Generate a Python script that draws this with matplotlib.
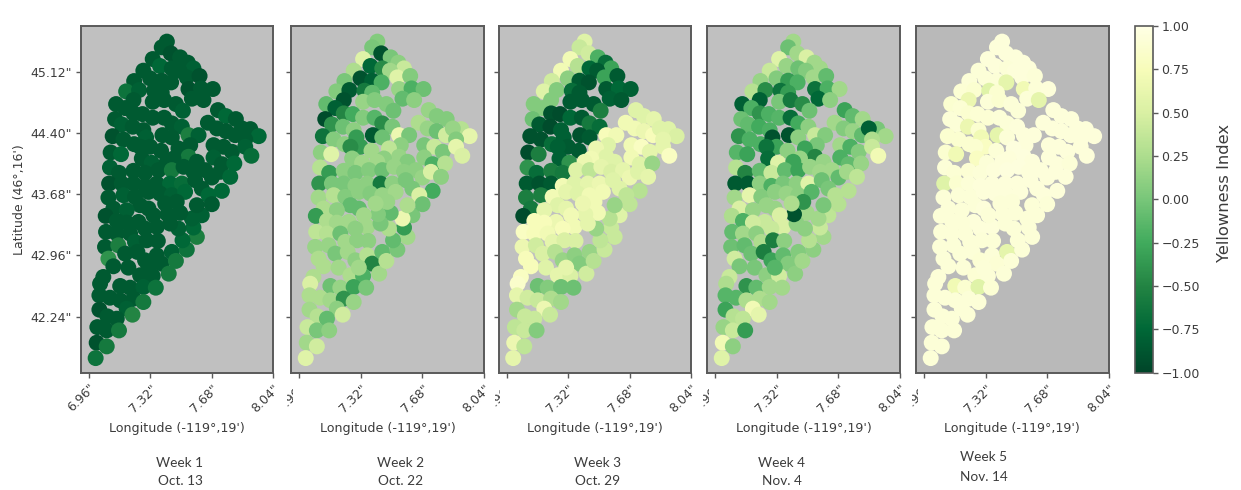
import matplotlib
matplotlib.use("Agg")
import matplotlib.pyplot as plt
from matplotlib.transforms import Bbox
from matplotlib.cm import ScalarMappable
from matplotlib.colors import Normalize

LON = [7.417,7.387,7.440,7.334,7.377,7.495,7.540,7.573,7.279,7.446,
7.491,7.534,7.609,7.225,7.319,7.387,7.442,7.178,7.254,7.342,
7.387,7.544,7.617,7.687,7.221,7.334,7.401,7.470,7.564,7.632,
7.119,7.172,7.511,7.221,7.274,7.334,7.401,7.113,7.446,7.505,
7.152,7.217,7.279,7.717,7.764,7.822,7.658,7.711,7.764,7.818,
7.907,7.956,7.858,7.877,7.544,7.603,7.099,7.162,7.225,7.295,
7.391,7.446,7.319,7.260,7.383,7.087,7.148,7.270,7.691,7.750,
7.799,7.877,7.913,7.554,7.485,7.544,7.456,7.593,7.691,7.740,
7.813,7.328,7.083,7.136,7.221,7.289,7.417,7.368,7.446,7.515,
7.573,7.642,7.681,7.730,7.789,7.078,7.152,7.221,7.289,7.358,
7.436,7.505,7.583,7.622,7.740,7.662,7.074,7.162,7.230,7.309,
7.377,7.446,7.524,7.103,7.058,7.260,7.181,7.309,7.250,7.123,
7.181,7.358,7.289,7.060,7.123,7.201,7.230,7.299,7.364,7.054,
7.132,7.172,7.244,7.074,7.289,7.358,7.387,7.446,7.103,7.191,
7.260,7.334,7.309,7.428,7.470,7.534,7.593,7.509,7.573,7.485,
7.622,7.564,7.681,7.593,7.495,7.436,7.421,7.475,7.407,7.338,
7.044,7.025,7.143,7.201,7.279,7.352,7.021,7.083,7.143,7.221,
7.279,7.181,7.021,7.068,7.123,7.215,7.009,7.064,7.136,7.005,7.064,6.999]

LAT = [45.478,45.411,45.340,45.273,45.191,45.293,45.230,45.163,45.136,45.163,
45.136,45.057,45.073,45.014,45.045,45.018,44.998,44.892,44.908,44.900,
44.876,44.920,44.927,44.920,44.790,44.770,44.790,44.743,44.806,44.790,
44.743,44.696,44.664,44.633,44.625,44.582,44.582,44.566,44.515,44.476,
44.503,44.476,44.436,44.672,44.601,44.566,44.523,44.456,44.424,44.377,
44.448,44.365,44.456,44.326,44.377,44.377,44.365,44.326,44.271,44.350,
44.377,44.350,44.240,44.240,44.193,44.173,44.153,44.102,44.259,44.240,
44.181,44.240,44.134,44.259,44.220,44.122,44.102,44.063,44.114,44.035,
44.043,44.051,43.996,43.933,43.957,43.933,44.063,43.965,43.965,44.004,
43.945,43.965,43.878,43.945,43.886,43.807,43.807,43.807,43.780,43.807,
43.807,43.807,43.847,43.748,43.721,43.670,43.642,43.670,43.650,43.709,
43.689,43.670,43.709,43.513,43.426,43.552,43.493,43.513,43.355,43.367,
43.347,43.297,43.277,43.238,43.218,43.218,43.120,43.139,43.131,43.061,
43.080,42.982,43.002,42.923,42.903,42.962,42.864,43.002,42.833,42.817,
42.727,42.719,42.817,42.746,42.896,43.029,43.179,43.139,43.289,43.277,
43.434,43.395,43.564,43.552,43.462,43.336,43.446,43.591,43.572,43.434,
42.707,42.628,42.601,42.581,42.589,42.581,42.491,42.463,42.432,42.452,
42.412,42.334,42.322,42.243,42.216,42.263,42.117,42.078,42.078,41.933,41.890,41.752]

WEEK1 = [-.85,-.85,-.9,-.85,-.75,-.85,-.85,-.8,-.85,-.85,
-.85,-.85,-.9,-.85,-.85,-.85,-.85,-.65,-.8,-.85,
-.85,-.9,-.85,-.85,-.85,-.85,-.85,-.85,-.85,-.85,
-.85,-.85,-.8,-.85,-.85,-.85,-.85,-.85,-.85,-.8,
-.8,-.85,-.85,-.85,-.75,-.85,-.85,-.85,-.85,-.85,
-.85,-.75,-.85,-.85,-.55,-.8,-.9,-.85,-.85,-.8,
-.85,-.85,-.85,-.85,-.85,-.85,-.75,-.85,-.85,-.85,
-.85,-.8,-.7,-.85,-.85,-.6,-.85,-.85,-.8,-.85,
-.75,-.8,-.8,-.85,-.85,-.85,-.85,-.85,-.6,-.85,
-.85,-.85,-.85,-.85,-.75,-.9,-.85,-.85,-.85,-.85,
-.75,-.7,-.85,-.85,-.75,-.75,-.85,-.8,-.85,-.85,
-.85,-.8,-.75,-.85,-.9,-.85,-.8,-.85,-.85,-.85,
-.85,-.85,-.85,-.85,-.85,-.85,-.8,-.85,-.85,-.85,
-.55,-.85,-.85,-.4,-.85,-.85,-.85,-.8,-.85,-.85,
-.85,-.85,-.85,-.6,-.6,-.65,-.55,-.75,-.75,-.8,
-.8,-.8,-.85,-.85,-.85,-.85,-.85,-.85,-.85,-.85,
-.85,-.85,-.85,-.85,-.8,-.65,-.85,-.85,-.85,-.85,
-.6,-.8,-.9,-.85,-.85,-.5,-.85,-.85,-.6,-.9,-.6,-.65]

WEEK2 = [.05,0,-.9,.55,-.75,0,.1,.4,.25,-.45,
.2,.55,.05,0,-.9,-.8,-.2,.05,-.85,-.6,
-.1,.15,-.2,-.05,-.9,.15,.05,.05,-.1,.1,
-.1,-.8,-.05,-.5,-.25,.05,-.15,-.95,-.45,0,
-.4,-.05,.1,.15,.05,.05,.25,.15,-.05,.45,
.3,.6,.15,.05,.65,0,-.65,.05,.1,-.35,
-.85,-.05,-.35,-.45,.2,.1,.55,.1,0,.4,
0,.6,.5,.1,.35,.15,.1,.05,.1,-.2,
.3,.2,.3,-.35,.1,0,.2,.05,-.05,.15,
.1,.1,.15,.5,.1,-.4,0,0,.1,.1,
-.6,.1,0,0,-.25,.5,.2,.3,.05,.1,
.05,.15,.2,.25,-.35,-.1,.1,-.1,.2,.25,
.2,.2,.1,.35,.3,-.05,.2,.1,.1,.15,
.15,0,.2,.25,.1,.3,-.5,-.1,.25,.2,
.25,-.2,.2,.2,.3,0,.2,-.1,-.35,.25,
0,.65,-.05,.25,-.1,0,.05,.15,.2,.2,
.25,.5,-.05,.15,-.3,0,.25,.25,.2,-.4,
.15,.1,.2,.3,-.1,.45,.4,0,.1,.2,.45,.55]

WEEK3 = [.55,.4,.45,.7,.3,-.2,-.7,-.3,.7,-.75,
-.85,-.3,-.85,.45,.1,-.85,-.9,.55,.05,-.7,
-.85,-.85,-.75,-.8,.05,-.85,-.85,-.85,-.8,-.85,
.05,.05,-.55,-.9,-.95,-.75,-.85,-.05,-.6,-.7,
-.85,-.95,-.8,.55,.55,.6,.7,.7,.65,.75,
.55,.5,.55,.6,.75,.7,-.9,-.9,-.7,-.8,
-.9,-.85,-.85,-.8,-.85,-.95,-.55,-.8,.7,.8,
.6,.6,.8,.55,.65,.55,.7,.55,.7,.55,
.15,-.4,-.4,-.7,-.55,-.6,.65,.55,.35,.6,
.5,.6,.65,.55,.6,-.85,-.9,-.85,.7,.55,
.6,.65,.55,.55,.3,.35,-.55,-.55,.7,.6,
.55,.7,.7,-.6,-.95,.55,.6,.6,.65,.75,
.75,.7,.75,.8,.75,.7,.6,.5,.5,.65,
.45,.5,.3,.75,.15,.1,.05,.15,.75,.55,
.6,.5,.6,.45,.3,.4,.4,.35,.4,.15,
.55,.3,.35,.15,.7,.6,.6,.7,.65,.7,
.8,.85,-.05,.05,-.05,-.05,.6,.45,.4,.25,
.2,.65,.2,.4,.4,.4,.35,.4,.05,.65,.35,.6]

WEEK4 = [.2,-.05,.2,.55,.15,.5,.2,.2,.4,-.05,
.05,.2,-.1,.15,.05,-.35,-.2,.3,-.45,-.65,
-.35,-.65,-.2,.2,-.8,0,-.6,-.45,-.75,.1,
-.8,-.2,-.05,-.4,-.2,-.15,-.7,-.05,-.25,.1,
-.1,-.25,-.2,-.3,-.1,.2,.2,.05,.15,-.1,
0,.2,-.8,.25,.4,.05,-.4,-.2,-.2,-.9,
-.9,.1,-.3,-.65,.1,-.15,-.3,-.7,.2,-.2,
.05,.4,.7,0,-.3,-.5,.15,.15,-.2,-.1,
.15,.55,.3,-.5,-.1,.4,-.3,-.1,-.3,.15,
.2,.2,-.1,.2,.35,-.85,-.85,.1,-.2,0,
.1,.55,-.05,0,.3,.3,.2,.6,.05,.1,
.15,.1,-.15,.5,.25,.15,.15,.15,.4,-.2,
.45,.5,.4,-.1,.2,.1,.25,-.55,.1,-.05,
-.1,-.05,-.55,.45,-.3,-.1,.05,.05,0,0,
.1,.45,-.15,.1,.2,.1,.2,.3,.4,.1,
.35,.2,.3,0,.2,.1,-.9,-.4,.25,.5,
.4,.25,-.4,-.1,.2,.2,-.15,-.15,.25,.25,
.2,.7,-.3,.3,.35,.6,.15,.4,-.35,.7,.1,.55]

WEEK5 = [.93,.93,.93,.93,.93,.93,.93,.93,.92,.92,
.93,.93,.92,.92,.92,.92,.6,.9,.88,.55,
.88,.7,.92,.93,.65,.92,.88,.92,.92,.6,
.88,.9,.92,.88,.9,.9,.92,.92,.92,.93,
.92,.65,.88,.93,.93,.93,.93,.93,.93,.93,
.93,.93,.93,.93,.93,.93,.88,.88,.88,.7,
.6,.92,.8,.88,.92,.88,.7,.8,.93,.93,
.93,.93,.93,.93,.95,.95,.93,.93,.93,.93,
.92,.92,.92,.9,.9,.92,.93,.93,.95,.95,
.93,.93,.93,.93,.93,.55,.88,.92,.93,.93,
.93,.93,.93,.93,.93,.93,.92,.92,.92,.93,
.93,.93,.93,.92,.92,.92,.92,.93,.93,.92,
.92,.93,.93,.92,.92,.92,.92,.92,.92,.92,
.92,.92,.92,.92,.9,.92,.9,.6,.92,.92,
.9,.92,.92,.92,.92,.92,.92,.92,.92,.92,
.92,.92,.92,.92,.92,.92,.92,.92,.92,.92,
.92,.92,.7,.88,.55,.9,.92,.92,.92,.92,
.92,.92,.92,.92,.92,.92,.92,.92,.92,.92,.92,.92]

WEEKS = [WEEK1, WEEK2, WEEK3, WEEK4, WEEK5]
XTICKS = [6.96, 7.32, 7.68, 8.04]
YTICKS = [42.24, 42.96, 43.68, 44.40, 45.12]
CAPTION_1 = ["Week 1", "Week 2", "Week 3", "Week 4", "Week 5"]
CAPTION_2 = ["Oct. 13", "Oct. 22", "Oct. 29", "Nov. 4", "Nov. 14"]
CBAR_TICKS = [-1, -.75, -.5, -.25, 0, .25, .5, .75, 1]

W, H = 1241, 490
TXT = "#3c3c3c"
EDGE = "#5a5a5a"
fig = plt.figure(figsize=(W/100, H/100), dpi=100)

def rect(l, t, r, b):
    return [l/W, 1-b/H, (r-l)/W, (b-t)/H]

panels = [(81, 273), (291, 484), (498.5, 691), (707, 900), (916, 1108.5)]
bgs = ["#c0c0c0", "#c0c0c0", "#c0c0c0", "#c0c0c0", "#b9b9b9"]
cap_x = [180, 401, 598, 782, 984]
cap_y = [(463, 481)]*4 + [(457, 477)]
norm = Normalize(-1, 1)

for i, ((l, r), vals) in enumerate(zip(panels, WEEKS)):
    ax = fig.add_axes(rect(l, 26, r, 372.7))
    ax.set_facecolor(bgs[i])
    ax.scatter(LON, LAT, c=vals, cmap="YlGn_r", norm=norm, s=132, linewidths=0)
    ax.set_xlim(6.913, 8.04)
    ax.set_ylim(41.58, 45.662)
    ax.set_xticks(XTICKS)
    ax.set_xticklabels([f'{v:.2f}"' for v in XTICKS], rotation=45, ha="right",
                       rotation_mode="anchor", fontsize=9, color=TXT)
    ax.set_yticks(YTICKS)
    if i == 0:
        ax.set_yticklabels([f'{v:.2f}"' for v in YTICKS], fontsize=9, color=TXT)
        ax.set_ylabel("Latitude (46°,16')", fontsize=9, color=TXT, labelpad=3)
    else:
        ax.set_yticklabels([])
    ax.tick_params(length=3.5, width=1, color=EDGE, pad=3)
    ax.set_xlabel("Longitude (-119°,19')", fontsize=9.1, color=TXT, labelpad=5)
    for s in ax.spines.values():
        s.set_linewidth(1.4)
        s.set_color(EDGE)
    if i > 0:
        lab = ax.get_xticklabels()[0]
        lab.set_clip_box(Bbox([[l-4, 0], [l+1.5, H]]))
        lab.set_clip_on(True)
    fig.text(cap_x[i]/W, 1-cap_y[i][0]/H, CAPTION_1[i], ha="center", va="center",
             fontsize=9.8, family="Lato", color=TXT)
    fig.text(cap_x[i]/W, 1-cap_y[i][1]/H, CAPTION_2[i], ha="center", va="center",
             fontsize=9.8, family="Lato", color=TXT)

cax = fig.add_axes(rect(1135, 26, 1152.5, 372.7))
cb = fig.colorbar(ScalarMappable(norm=norm, cmap="YlGn_r"), cax=cax, ticks=CBAR_TICKS)
cb.ax.set_yticklabels([f"{v:.2f}".replace("-", "\u2212") for v in CBAR_TICKS], fontsize=9, color=TXT)
cb.ax.tick_params(length=3.5, width=1, color=EDGE, pad=3)
cb.outline.set_linewidth(1.2)
cb.outline.set_edgecolor(EDGE)
cb.set_label("Yellowness Index", fontsize=11.8, color=TXT, labelpad=12, y=0.518)

fig.savefig("out.png", dpi=100)
